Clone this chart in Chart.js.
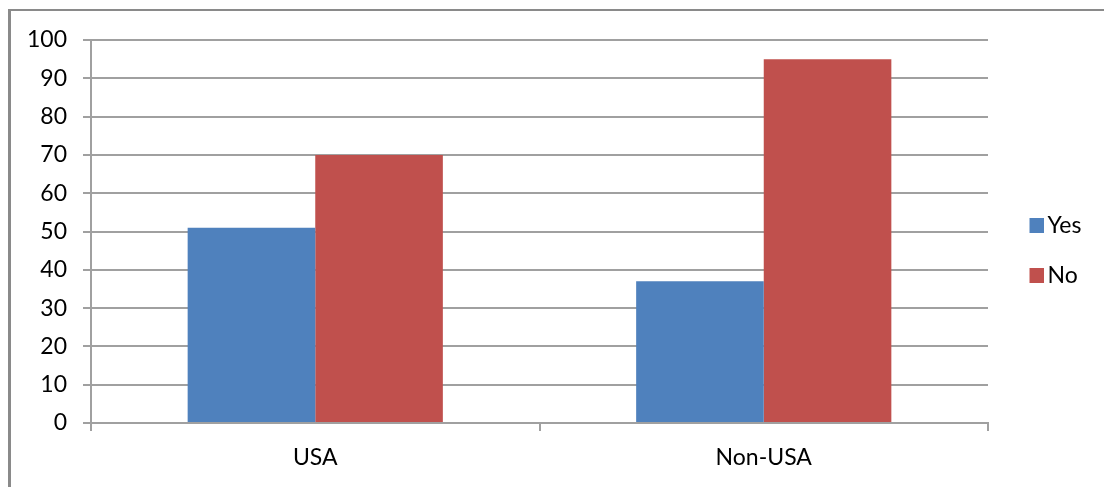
<!DOCTYPE html>
<html>
<head>
<meta charset="utf-8">
<script src="https://cdn.jsdelivr.net/npm/chart.js@4/dist/chart.umd.min.js"></script>
<style>
  html, body { margin: 0; padding: 0; background: #fff; overflow: hidden; }
  #wrap { position: relative; width: 1104px; height: 487px; }
  #frame {
    position: absolute; left: 8px; top: 9px; right: -10px; bottom: -10px;
    border-top: 2px solid #8a8a8a; border-left: 3px solid #8a8a8a;
    pointer-events: none;
  }
  canvas { position: absolute; left: 0; top: 0; }
</style>
</head>
<body>
<div id="wrap">
  <canvas id="chart" width="1104" height="487"></canvas>
  <div id="frame"></div>
</div>
<script>
// Categories, series and axis ticks
const categories = ['USA', 'Non-USA'];
const seriesNames = ['Yes', 'No'];
const yesValues = [51, 37];
const noValues = [70, 95];
const yTicks = [0, 10, 20, 30, 40, 50, 60, 70, 80, 90, 100];

const colors = ['#4F81BD', '#C0504D'];
const FONT = { family: 'Lato, "Open Sans", sans-serif', size: 23 };

// Legend swatch: a square on the right side of a wider transparent canvas,
// so the swatch sits close to its label text.
function swatch(color) {
  const c = document.createElement('canvas');
  c.width = 36; c.height = 15;
  const g = c.getContext('2d');
  g.fillStyle = color;
  g.fillRect(22, 0, 14, 15);
  return c;
}
const swatches = colors.map(swatch);

// Legend block: centred vertically on the band 40..461, free to use the full right margin
const legendBand = {
  id: 'legendBand',
  afterLayout(chart) {
    const lg = chart.legend;
    if (!lg) return;
    lg.top = 40;
    lg.bottom = 461;
    lg.height = lg.bottom - lg.top;
    lg.right = chart.width;
    lg.width = lg.right - lg.left;
  }
};

new Chart(document.getElementById('chart'), {
  type: 'bar',
  data: {
    labels: categories,
    datasets: [
      { label: seriesNames[0], data: yesValues, backgroundColor: colors[0], borderWidth: 0 },
      { label: seriesNames[1], data: noValues, backgroundColor: colors[1], borderWidth: 0 }
    ]
  },
  plugins: [legendBand],
  options: {
    responsive: false,
    animation: false,
    datasets: { bar: { categoryPercentage: 0.569, barPercentage: 1.0 } },
    layout: { padding: { left: 0, top: 40, right: 26, bottom: 0 } },
    plugins: {
      tooltip: { enabled: false },
      legend: {
        position: 'right',
        maxWidth: 90,
        labels: {
          font: FONT,
          color: '#000',
          usePointStyle: true,
          boxWidth: 21,
          boxHeight: 14,
          padding: 27,
          generateLabels(chart) {
            const items = Chart.defaults.plugins.legend.labels.generateLabels(chart);
            return items.map((it, i) => Object.assign(it, { pointStyle: swatches[i] }));
          }
        }
      }
    },
    scales: {
      x: {
        grid: { display: true, drawOnChartArea: false, offset: true, tickLength: 8, color: '#a0a0a0', lineWidth: 2 },
        border: { display: true, color: '#a0a0a0', width: 2 },
        ticks: { font: FONT, color: '#000', padding: 13 },
        afterFit(scale) { scale.height = 64; }
      },
      y: {
        min: 0,
        max: 100,
        afterBuildTicks(scale) { scale.ticks = yTicks.map(v => ({ value: v })); },
        grid: { color: '#a0a0a0', lineWidth: 2, tickLength: 8 },
        border: { display: true, color: '#a0a0a0', width: 2 },
        ticks: { font: FONT, color: '#000', padding: 16 },
        afterFit(scale) { scale.width = 91; }
      }
    }
  }
});
</script>
</body>
</html>
